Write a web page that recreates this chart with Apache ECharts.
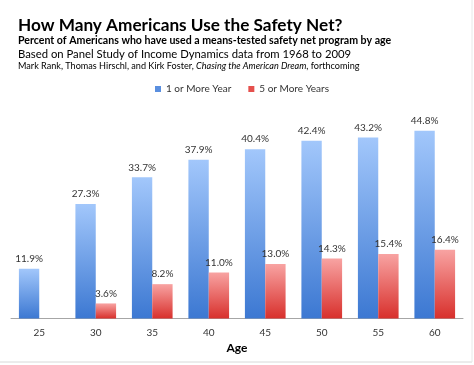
<!DOCTYPE html>
<html><head><meta charset="utf-8">
<script src="https://cdn.jsdelivr.net/npm/echarts@6/dist/echarts.min.js"></script>
<style>html,body{margin:0;padding:0;background:#fff}#c{width:474px;height:365px}</style>
</head><body><div id="c"></div>
<script>
const categories = ['25','30','35','40','45','50','55','60'];
const oneOrMore = [11.9, 27.3, 33.7, 37.9, 40.4, 42.4, 43.2, 44.8];
const fiveOrMore = [null, 3.6, 8.2, 11.0, 13.0, 14.3, 15.4, 16.4];
const seriesNames = ['1 or More Year', '5 or More Years'];

const F = 'Lato, "Open Sans", sans-serif';
const chart = echarts.init(document.getElementById('c'));
const grad = (a, b) => new echarts.graphic.LinearGradient(0, 0, 0, 1, [{offset: 0, color: a}, {offset: 1, color: b}]);
const lbl = {show: true, position: 'top', distance: 5, fontFamily: F, fontSize: 10, color: '#333',
  formatter: p => p.value == null ? '' : p.value.toFixed(1) + '%'};
chart.setOption({
  animation: false,
  title: [
    {text: 'How Many Americans Use the Safety Net?', left: 13, top: 12,
     textStyle: {fontFamily: F, fontSize: 17.2, fontWeight: 'bold', color: '#000'}},
    {text: 'Percent of Americans who have used a means-tested safety net program by age', left: 13, top: 30,
     textStyle: {fontFamily: F, fontSize: 10.6, fontWeight: 'bold', color: '#000'}},
    {text: 'Based on Panel Study of Income Dynamics data from 1968 to 2009', left: 13, top: 44,
     textStyle: {fontFamily: F, fontSize: 11.3, fontWeight: 'normal', color: '#000'}},
    {text: '{a|Mark Rank, Thomas Hirschl, and Kirk Foster, }{i|Chasing the American Dream}{a|, forthcoming}', left: 13, top: 57,
     textStyle: {fontWeight: 'normal', rich: {
       a: {fontFamily: F, fontSize: 9.1, fontWeight: 'normal', color: '#000'},
       i: {fontFamily: F, fontSize: 9.1, fontWeight: 'normal', fontStyle: 'italic', color: '#000'}}}}
  ],
  legend: {
    top: 79, left: 150, itemWidth: 6, itemHeight: 6, itemGap: 17, icon: 'rect',
    textStyle: {fontFamily: F, fontSize: 10, color: '#333'},
    data: [{name: seriesNames[0], itemStyle: {color: '#5a8fdf'}}, {name: seriesNames[1], itemStyle: {color: '#e5504d'}}]
  },
  grid: {left: 11, right: 11, top: 109, bottom: 46.5},
  xAxis: {
    type: 'category', data: categories, name: 'Age', nameLocation: 'middle', nameGap: 23,
    nameTextStyle: {fontFamily: F, fontSize: 12, fontWeight: 'bold', color: '#000'},
    axisLine: {lineStyle: {color: '#a6a6a6'}}, axisTick: {show: false},
    axisLabel: {fontFamily: F, fontSize: 10, color: '#333', margin: 9}
  },
  yAxis: {type: 'value', min: 0, max: 50, show: false, splitLine: {show: false}},
  series: [
    {name: seriesNames[0], type: 'bar', data: oneOrMore, barWidth: '36%', barGap: '0%',
     itemStyle: {color: grad('#a2c7fb', '#3c78d2')}, label: lbl},
    {name: seriesNames[1], type: 'bar', data: fiveOrMore, barWidth: '36%',
     itemStyle: {color: grad('#f8a3a2', '#d8302c')}, label: lbl}
  ],
  graphic: [
    {type: 'line', shape: {x1: 0, y1: 362, x2: 472, y2: 362}, style: {stroke: '#d8d8d8', lineWidth: 1}},
    {type: 'line', shape: {x1: 472, y1: 0, x2: 472, y2: 362}, style: {stroke: '#e8e8e8', lineWidth: 1}}
  ]
});
</script></body></html>
